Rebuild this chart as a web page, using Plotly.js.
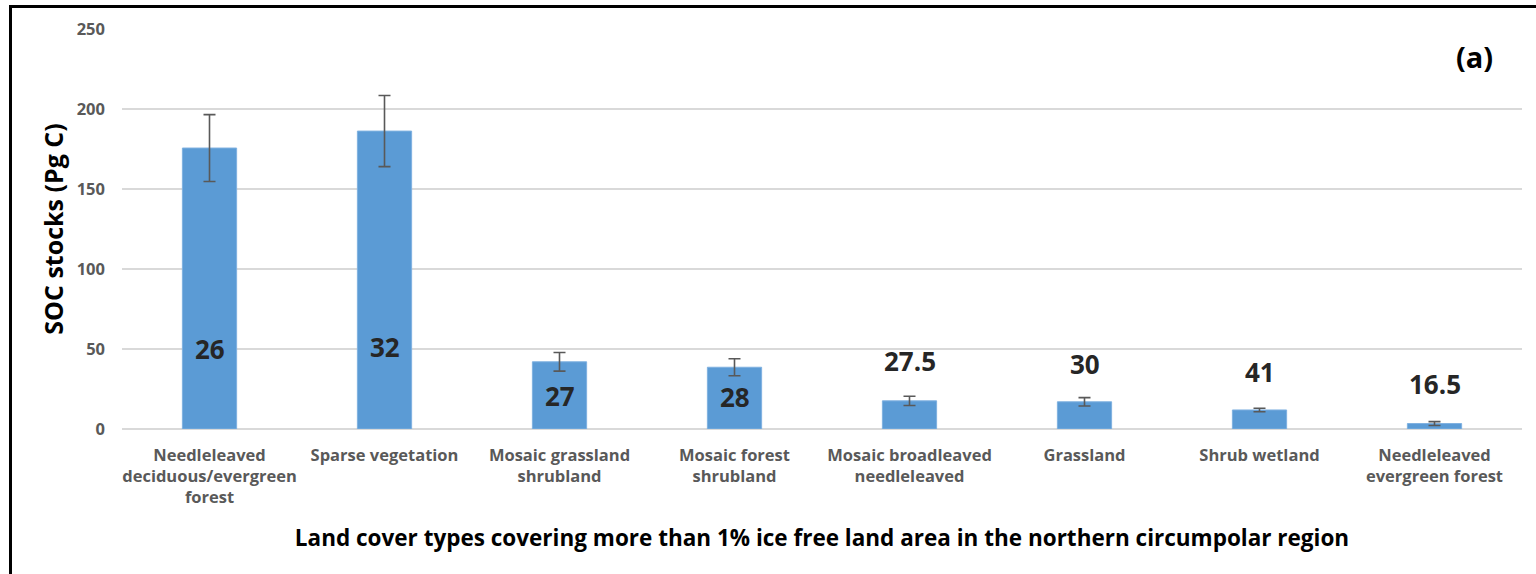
<!DOCTYPE html>
<html>
<head>
<meta charset="utf-8">
<script src="https://cdn.plot.ly/plotly-3.0.1.min.js"></script>
<style>
html,body{margin:0;padding:0;background:#fff;}
#wrap{position:relative;width:1536px;height:574px;}
#chart{width:1536px;height:574px;}
#frame{position:absolute;left:9px;top:5px;width:1527px;height:569px;border-left:3px solid #000;border-top:3px solid #000;pointer-events:none;box-sizing:border-box;}
</style>
</head>
<body>
<div id="wrap"><div id="chart"></div><div id="frame"></div></div>
<script>
const categories = [
  "Needleleaved<br>deciduous/evergreen<br>forest",
  "Sparse vegetation",
  "Mosaic grassland<br>shrubland",
  "Mosaic forest<br>shrubland",
  "Mosaic broadleaved<br>needleleaved",
  "Grassland",
  "Shrub wetland",
  "Needleleaved<br>evergreen forest"
];
const socStocks = [175.6, 186.2, 42.0, 38.6, 17.6, 17.0, 11.9, 3.4];
const socError  = [20.9, 22.2, 5.8, 5.3, 2.9, 2.6, 1.1, 1.2];
const barLabels = ["26", "32", "27", "28", "27.5", "30", "41", "16.5"];
const labelY    = [50, 51, 20.5, 20, 42.5, 40.5, 35.5, 28];
const yTicks = [0, 50, 100, 150, 200, 250];

const FONT = '"Open Sans", Lato, sans-serif';

const trace = {
  type: 'bar',
  x: categories,
  y: socStocks,
  marker: {color: '#5b9bd5', line: {color: '#7fb1e0', width: 1}},
  error_y: {type: 'data', array: socError, visible: true, color: '#595959', thickness: 1.6, width: 6},
  hoverinfo: 'x+y'
};

const annotations = barLabels.map((t, i) => ({
  x: categories[i], y: labelY[i], xref: 'x', yref: 'y',
  text: t, showarrow: false,
  font: {family: FONT, size: 26, color: '#262626', weight: 700}
}));
annotations.push({
  xref: 'paper', yref: 'paper', x: 0.966, y: 0.93, xanchor: 'center', yanchor: 'middle',
  text: '<b>(a)</b>', showarrow: false,
  font: {family: FONT, size: 29, color: '#000'}
});

const layout = {
  width: 1536, height: 574,
  margin: {l: 122, r: 14, t: 29, b: 145},
  paper_bgcolor: '#fff', plot_bgcolor: '#fff',
  bargap: 0.69,
  showlegend: false,
  font: {family: FONT},
  xaxis: {
    tickfont: {family: FONT, size: 16.5, color: '#595959', weight: 700},
    ticks: '', showgrid: false, showline: false, zeroline: false,
    ticklabelstandoff: 14,
    title: {text: '<b>Land cover types covering more than 1% ice free land area in the northern circumpolar region</b>',
            font: {family: FONT, size: 22.5, color: '#000'}, standoff: 22}
  },
  yaxis: {
    range: [0, 250],
    tickvals: yTicks,
    tickfont: {family: FONT, size: 16.5, color: '#595959', weight: 700},
    showgrid: true, gridcolor: '#d9d9d9', gridwidth: 1.5,
    zeroline: true, zerolinecolor: '#d9d9d9', zerolinewidth: 1.5,
    showline: false, ticks: '',
    ticklabelstandoff: 16,
    title: {text: '<b>SOC stocks (Pg C)</b>', font: {family: FONT, size: 25, color: '#000'}, standoff: 5}
  },
  annotations: annotations
};

Plotly.newPlot('chart', [trace], layout, {displayModeBar: false, staticPlot: true});
</script>
</body>
</html>
